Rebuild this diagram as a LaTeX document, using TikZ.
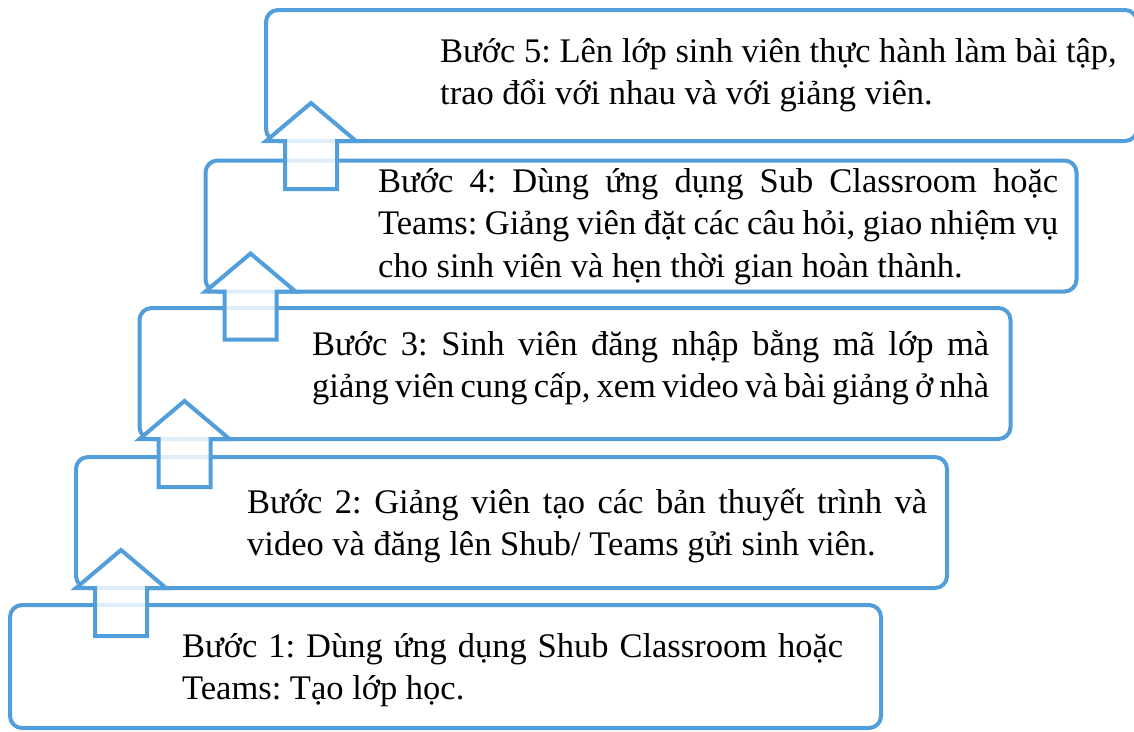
\documentclass[tikz,border=0pt]{standalone}
\usepackage{fontspec}
\setmainfont{Liberation Serif}
\definecolor{boxblue}{RGB}{82,158,218}
\tikzset{
  stepbox/.style={draw=boxblue, line width=4pt, rounded corners=12pt, fill=white,
    minimum width=871pt, minimum height=131pt, inner sep=0pt, outer sep=0pt},
  steptext/.style={anchor=base west, inner sep=0pt, text width=680pt, align=justify,
    font=\fontsize{34.5}{42.5}\selectfont},
  uparrow/.pic={
    \draw[draw=boxblue, line width=4pt, fill=white, fill opacity=0.82, line join=miter]
      (-26,48) -- (-26,0) -- (-45,0) -- (0,-38) -- (45,0) -- (26,0) -- (26,48) -- cycle;
  }
}
\begin{document}
\begin{tikzpicture}[x=1pt,y=-1pt]
\frenchspacing
\hyphenpenalty=10000 \tolerance=9999 \emergencystretch=20pt
\useasboundingbox (0,0) rectangle (1134,731);
% boxes
\node[stepbox] (box5) at (701.5,75.5) {};
\node[stepbox] (box4) at (641,226) {};
\node[stepbox] (box3) at (575,373.5) {};
\node[stepbox] (box2) at (511.5,522.5) {};
\node[stepbox, minimum height=123pt] (box1) at (445.5,666.5) {};
% texts
\node[steptext] (t5) at (440,62) {Bước 5: Lên lớp sinh viên thực hành làm bài tập,\\ trao đổi với nhau và với giảng viên.};
\node[steptext] (t4) at (378,192) {Bước 4: Dùng ứng dụng Sub Classroom hoặc\linebreak Teams: Giảng viên đặt các câu hỏi, giao nhiệm vụ\linebreak cho sinh viên và hẹn thời gian hoàn thành.};
\node[steptext, text width=677pt] (t3) at (312,355) {\spaceskip=0.18em plus 0.4em minus 0.02em\parfillskip=0pt
  Bước 3: Sinh viên đăng nhập bằng mã lớp mà\linebreak giảng viên cung cấp, xem video và bài giảng ở nhà};
\node[steptext] (t2) at (247,513) {Bước 2: Giảng viên tạo các bản thuyết trình và\linebreak video và đăng lên Shub/ Teams gửi sinh viên.};
\node[steptext, text width=661pt] (t1) at (182,657) {Bước 1: Dùng ứng dụng Shub Classroom hoặc\linebreak Teams: Tạo lớp học.};
% arrows
\pic at ([xshift=45pt]box2.south west) {uparrow};
\pic at ([xshift=45pt]box3.south west) {uparrow};
\pic at ([xshift=45pt]box4.south west) {uparrow};
\pic at ([xshift=45pt]box5.south west) {uparrow};
\end{tikzpicture}
\end{document}
